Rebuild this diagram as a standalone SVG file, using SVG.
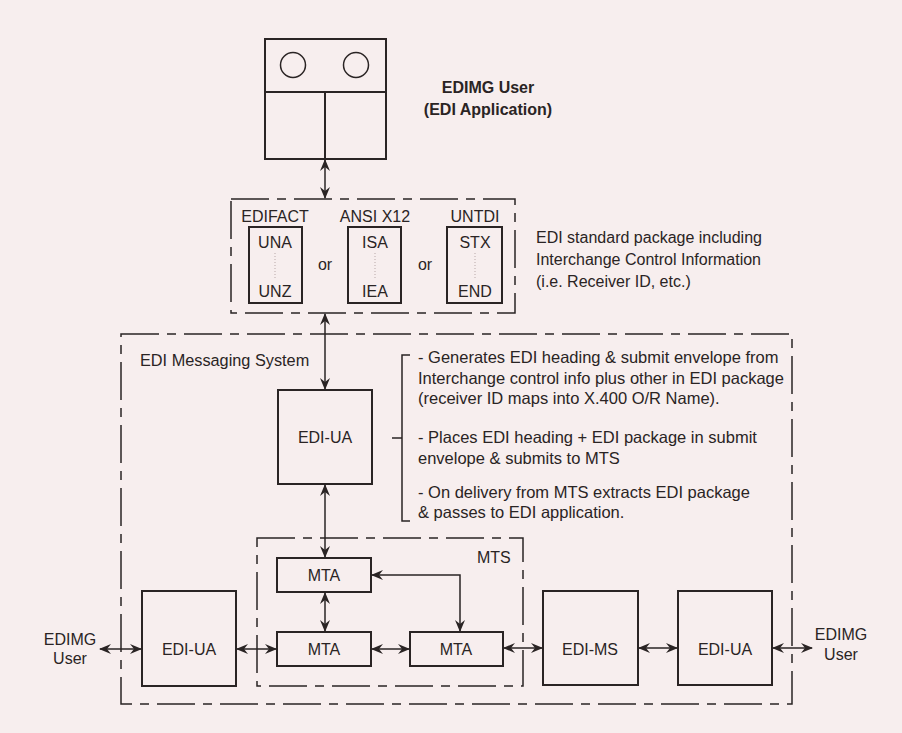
<svg xmlns="http://www.w3.org/2000/svg" width="902" height="733" viewBox="0 0 902 733">
<style>
text{font-family:"Liberation Sans",Arial,sans-serif;font-size:16px;fill:#2a2424}
.c{text-anchor:middle}
.b{font-weight:bold}
.d{font-size:16.5px}
.box{fill:none;stroke:#2a2424;stroke-width:2}
.dash{fill:none;stroke:#2a2424;stroke-width:1.5;stroke-dasharray:38 8 9 8}
.ln{fill:none;stroke:#2a2424;stroke-width:1.5}
.dot{stroke:#b8a8a8;stroke-width:1;stroke-dasharray:1 2}
.ar{fill:none;stroke:#2a2424;stroke-width:1.5;marker-start:url(#ah);marker-end:url(#ah)}
</style>
<defs>
<marker id="ah" viewBox="0 0 12 10" refX="11" refY="5" markerWidth="12" markerHeight="10" markerUnits="userSpaceOnUse" orient="auto-start-reverse">
<path d="M0,0 L12,5 L0,10 L4,5 z" fill="#2a2424"/>
</marker>
</defs>
<rect width="902" height="733" fill="#f7eeee"/>

<g id="edimg-user-top">
<rect class="box" x="265" y="39" width="121" height="120"/>
<line class="box" x1="265" y1="92" x2="386" y2="92"/>
<line class="box" x1="325" y1="92" x2="325" y2="159"/>
<circle class="ln" cx="293" cy="65" r="12.5"/>
<circle class="ln" cx="356" cy="65" r="12.5"/>
<text class="c b" x="488" y="93">EDIMG User</text>
<text class="c b" x="488" y="115">(EDI Application)</text>
</g>

<g id="edi-package">
<rect class="dash" x="231" y="199" width="284" height="114"/>
<text class="c" x="275" y="222">EDIFACT</text>
<text class="c" x="375" y="222">ANSI X12</text>
<text class="c" x="475" y="222">UNTDI</text>
<rect class="box" x="249" y="227" width="53" height="76"/>
<rect class="box" x="348" y="227" width="53" height="76"/>
<rect class="box" x="447" y="227" width="55" height="76"/>
<text class="c" x="275" y="248">UNA</text>
<text class="c" x="275" y="297">UNZ</text>
<text class="c" x="375" y="248">ISA</text>
<text class="c" x="375" y="297">IEA</text>
<text class="c" x="475" y="248">STX</text>
<text class="c" x="475" y="297">END</text>
<line class="dot" x1="275" y1="253" x2="275" y2="278"/>
<line class="dot" x1="375" y1="253" x2="375" y2="278"/>
<line class="dot" x1="475" y1="253" x2="475" y2="278"/>
<text class="c" x="325" y="270">or</text>
<text class="c" x="425" y="270">or</text>
<text x="536" y="243">EDI standard package including</text>
<text x="536" y="265">Interchange Control Information</text>
<text x="536" y="287">(i.e. Receiver ID, etc.)</text>
</g>

<g id="edi-messaging-system">
<rect class="dash" x="121" y="334" width="671" height="370"/>
<text x="140" y="366" style="font-size:16.3px">EDI Messaging System</text>
<path class="ln" d="M410,355 H402 V521 H410 M392,438 H402"/>
<text class="d" x="418" y="363">- Generates EDI heading &amp; submit envelope from</text>
<text class="d" x="418" y="384">Interchange control info plus other in EDI package</text>
<text class="d" x="418" y="404">(receiver ID maps into X.400 O/R Name).</text>
<text class="d" x="418" y="443">- Places EDI heading + EDI package in submit</text>
<text class="d" x="418" y="464">envelope &amp; submits to MTS</text>
<text class="d" x="418" y="498">- On delivery from MTS extracts EDI package</text>
<text class="d" x="418" y="518">&amp; passes to EDI application.</text>
</g>

<g id="edi-ua-main">
<rect class="box" x="278" y="390" width="94" height="94"/>
<text class="c" x="325" y="443">EDI-UA</text>
</g>

<g id="mts">
<rect class="dash" x="257" y="538" width="266" height="148"/>
<text x="477" y="563">MTS</text>
</g>

<g id="mta-top">
<rect class="box" x="277" y="558" width="94" height="34"/>
<text class="c" x="324" y="581">MTA</text>
</g>
<g id="mta-left">
<rect class="box" x="277" y="632" width="94" height="34"/>
<text class="c" x="324" y="655">MTA</text>
</g>
<g id="mta-right">
<rect class="box" x="410" y="632" width="93" height="34"/>
<text class="c" x="456" y="655">MTA</text>
</g>

<g id="edi-ua-left">
<rect class="box" x="142" y="591" width="94" height="95"/>
<text class="c" x="189" y="655">EDI-UA</text>
</g>
<g id="edi-ms">
<rect class="box" x="543" y="591" width="95" height="94"/>
<text class="c" x="590" y="655">EDI-MS</text>
</g>
<g id="edi-ua-right">
<rect class="box" x="678" y="591" width="94" height="94"/>
<text class="c" x="725" y="655">EDI-UA</text>
</g>

<g id="user-left">
<text class="c" x="70" y="645">EDIMG</text>
<text class="c" x="70" y="664">User</text>
</g>
<g id="user-right">
<text class="c" x="841" y="640">EDIMG</text>
<text class="c" x="841" y="660">User</text>
</g>

<g id="connectors">
<line class="ar" x1="325" y1="160" x2="325" y2="198"/>
<line class="ar" x1="325" y1="314" x2="325" y2="389"/>
<line class="ar" x1="325" y1="485" x2="325" y2="557"/>
<line class="ar" x1="325" y1="593" x2="325" y2="631"/>
<path class="ar" d="M372,575 H460 V631"/>
<line class="ar" x1="100" y1="649" x2="141" y2="649"/>
<line class="ar" x1="237" y1="649" x2="276" y2="649"/>
<line class="ar" x1="372" y1="649" x2="409" y2="649"/>
<line class="ar" x1="504" y1="648" x2="542" y2="648"/>
<line class="ar" x1="639" y1="648" x2="677" y2="648"/>
<line class="ar" x1="773" y1="648" x2="812" y2="648"/>
</g>
</svg>
